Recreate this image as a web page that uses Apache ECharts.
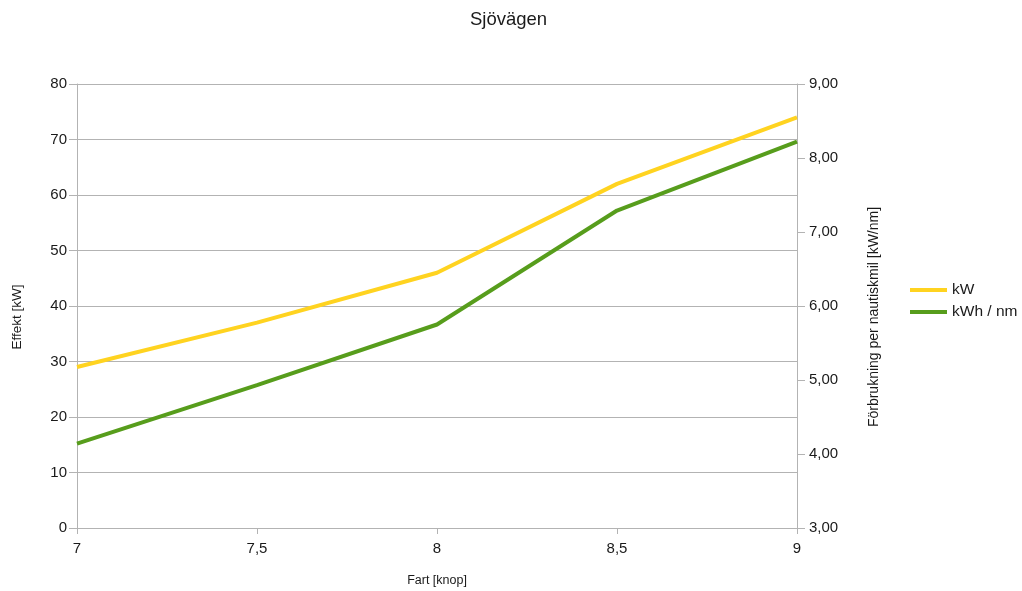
<!DOCTYPE html>
<html>
<head>
<meta charset="utf-8">
<script src="https://cdn.jsdelivr.net/npm/echarts@6/dist/echarts.min.js"></script>
<style>
  html, body { margin: 0; padding: 0; background: #fff; }
  #chart { width: 1022px; height: 591px; }
</style>
</head>
<body>
<div id="chart"></div>
<script>
// Speed in knots
const speeds = ['7', '7,5', '8', '8,5', '9'];
// Power at each speed (kW)
const powerKW = [29, 37, 46, 62, 74];
// Consumption per nautical mile (kWh / nm)
const kWhPerNm = [4.14, 4.93, 5.75, 7.29, 8.22];

const leftTicks = { min: 0, max: 80, interval: 10 };
const rightTicks = { min: 3, max: 9, interval: 1 };

const font = 'Liberation Sans, Arial, sans-serif';
const gridColor = '#b3b3b3';
const textColor = '#1a1a1a';

const chart = echarts.init(document.getElementById('chart'));
chart.setOption({
  backgroundColor: '#ffffff',
  animation: false,
  title: {
    text: 'Sjövägen',
    left: 465,
    top: 5,
    textStyle: { fontFamily: font, fontSize: 18.5, fontWeight: 'normal', color: textColor }
  },
  legend: {
    orient: 'vertical',
    left: 905,
    top: 277,
    itemWidth: 37,
    itemHeight: 4,
    itemGap: 6,
    icon: 'rect',
    textStyle: { fontFamily: font, fontSize: 15.5, color: textColor },
    data: ['kW', 'kWh / nm']
  },
  grid: { left: 77, right: 225, top: 84, bottom: 63, containLabel: false, outerBoundsMode: 'none' },
  xAxis: {
    type: 'category',
    data: speeds,
    boundaryGap: false,
    name: 'Fart [knop]',
    nameLocation: 'middle',
    nameGap: 46,
    nameTextStyle: { fontFamily: font, fontSize: 12.5, color: textColor },
    axisLine: { lineStyle: { color: gridColor } },
    axisTick: { show: true, length: 6, lineStyle: { color: gridColor } },
    axisLabel: { fontFamily: font, fontSize: 15, color: textColor, margin: 13 },
    splitLine: { show: false }
  },
  yAxis: [
    {
      type: 'value',
      min: leftTicks.min, max: leftTicks.max, interval: leftTicks.interval,
      name: 'Effekt [kW]',
      nameLocation: 'middle',
      nameGap: 53,
      nameRotate: 90,
      nameTextStyle: { fontFamily: font, fontSize: 13.5, color: textColor, padding: [0, 22, 0, 0] },
      axisLine: { show: true, lineStyle: { color: gridColor } },
      axisTick: { show: true, length: 8, lineStyle: { color: gridColor } },
      axisLabel: { fontFamily: font, fontSize: 15, color: textColor, margin: 10 },
      splitLine: { show: true, lineStyle: { color: gridColor } }
    },
    {
      type: 'value',
      position: 'right',
      min: rightTicks.min, max: rightTicks.max, interval: rightTicks.interval,
      name: 'Förbrukning per nautiskmil [kW/nm]',
      nameLocation: 'middle',
      nameGap: 70,
      nameRotate: 90,
      nameTextStyle: { fontFamily: font, fontSize: 14, color: textColor, padding: [0, 22, 0, 0] },
      axisLine: { show: true, lineStyle: { color: gridColor } },
      axisTick: { show: true, length: 8, lineStyle: { color: gridColor } },
      axisLabel: {
        fontFamily: font, fontSize: 15, color: textColor, margin: 12,
        formatter: v => v.toFixed(2).replace('.', ',')
      },
      splitLine: { show: false }
    }
  ],
  series: [
    {
      name: 'kW',
      type: 'line',
      yAxisIndex: 0,
      data: powerKW,
      symbol: 'none',
      lineStyle: { width: 4, color: '#ffd320' },
      itemStyle: { color: '#ffd320' }
    },
    {
      name: 'kWh / nm',
      type: 'line',
      yAxisIndex: 1,
      data: kWhPerNm,
      symbol: 'none',
      lineStyle: { width: 4, color: '#579d1c' },
      itemStyle: { color: '#579d1c' }
    }
  ]
});
</script>
</body>
</html>
